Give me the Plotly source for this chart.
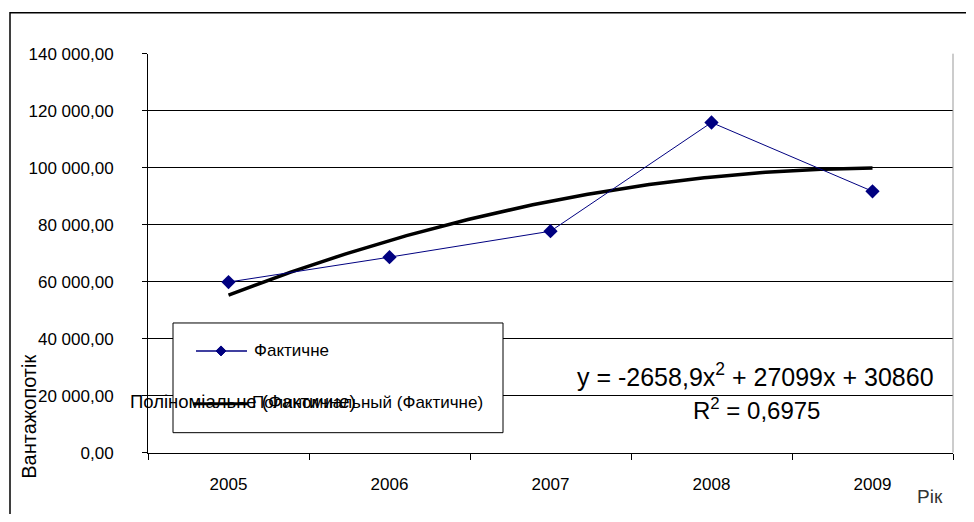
import numpy as np
import plotly.graph_objects as go

# ---- data ----
years = [2005, 2006, 2007, 2008, 2009]
fact = [59850, 68600, 77700, 115850, 91700]
poly_coef = [-2658.9, 27099, 30860]   # trendline y = a x^2 + b x + c, x = 1..5
r2_text = "R<sup>2</sup> = 0,6975"
eq_text = "y = -2658,9x<sup>2</sup> + 27099x + 30860"
ytick_vals = [0, 20000, 40000, 60000, 80000, 100000, 120000, 140000]
ytick_text = ["0,00", "20 000,00", "40 000,00", "60 000,00", "80 000,00",
              "100 000,00", "120 000,00", "140 000,00"]
series_name = "Фактичне"
trend_name_1 = "Поліноміальне (Фактичне)"
trend_name_2 = "Полиномиальный (Фактичне)"
y_title = "Вантажопотік"
x_title = "Рік"

OFF = 8  # page body margin
W, H = 974 - 2 * OFF, 522 - 2 * OFF
def px(x):
    return (x - OFF) / W
def py(y):
    yy = (y - 7.5) / 0.965
    return 1 - (yy - OFF) / H

FONT = "Liberation Sans, Arial, sans-serif"

xs = np.linspace(1, 5, 200)
trend_y = np.polyval(poly_coef, xs)
trend_x = [years[0] - 1 + v for v in xs]

fig = go.Figure()
fig.add_trace(go.Scatter(x=trend_x, y=trend_y, mode="lines",
                         line=dict(color="black", width=3.5),
                         showlegend=False, hoverinfo="skip"))
fig.add_trace(go.Scatter(x=years, y=fact, mode="lines+markers",
                         line=dict(color="#000080", width=1),
                         marker=dict(symbol="diamond", size=11, color="#000080"),
                         showlegend=False))

shapes = []
# outer chart border
shapes.append(dict(type="rect", xref="paper", yref="paper",
                   x0=px(10), x1=px(990), y0=py(560), y1=py(11),
                   line=dict(color="black", width=1.5), layer="below"))
# plot area right border
shapes.append(dict(type="line", xref="paper", yref="paper",
                   x0=px(953), x1=px(953), y0=py(452), y1=py(52),
                   line=dict(color="#999999", width=1)))
# legend box
shapes.append(dict(type="rect", xref="paper", yref="paper",
                   x0=px(173), x1=px(503), y0=py(432), y1=py(322),
                   line=dict(color="black", width=1), fillcolor="white", layer="above"))
# legend sample lines
shapes.append(dict(type="line", xref="paper", yref="paper",
                   x0=px(196), x1=px(247), y0=py(350), y1=py(350),
                   line=dict(color="#000080", width=1.5)))
d = 5
shapes.append(dict(type="path", xref="paper", yref="paper",
                   path=f"M {px(221)} {py(350-d)} L {px(221+d)} {py(350)} L {px(221)} {py(350+d)} L {px(221-d)} {py(350)} Z",
                   fillcolor="#000080", line=dict(color="#000080", width=1)))
shapes.append(dict(type="line", xref="paper", yref="paper",
                   x0=px(193), x1=px(248), y0=py(403), y1=py(403),
                   line=dict(color="black", width=3)))

annotations = [
    dict(text=series_name, x=px(252), y=py(350), xref="paper", yref="paper",
         xanchor="left", yanchor="middle", showarrow=False,
         font=dict(family=FONT, size=17, color="black")),
    dict(text=trend_name_1, x=px(128), y=py(401), xref="paper", yref="paper",
         xanchor="left", yanchor="middle", showarrow=False,
         font=dict(family=FONT, size=18.5, color="black")),
    dict(text=trend_name_2, x=px(250), y=py(402), xref="paper", yref="paper",
         xanchor="left", yanchor="middle", showarrow=False,
         font=dict(family=FONT, size=17, color="black")),
    dict(text=eq_text, x=px(755), y=py(374), xref="paper", yref="paper",
         xanchor="center", yanchor="middle", showarrow=False,
         font=dict(family=FONT, size=25, color="black")),
    dict(text=r2_text, x=px(756), y=py(408), xref="paper", yref="paper",
         xanchor="center", yanchor="middle", showarrow=False,
         font=dict(family=FONT, size=24, color="black")),
    dict(text=y_title, x=px(29), y=py(416), xref="paper", yref="paper",
         xanchor="center", yanchor="middle", showarrow=False, textangle=-90,
         font=dict(family=FONT, size=20, color="black")),
    dict(text=x_title, x=px(930), y=py(496), xref="paper", yref="paper",
         xanchor="center", yanchor="middle", showarrow=False,
         font=dict(family=FONT, size=19, color="#333333")),
]

fig.update_layout(
    width=W, height=H,
    margin=dict(l=0, r=0, t=0, b=0),
    paper_bgcolor="white", plot_bgcolor="white",
    showlegend=False,
    shapes=shapes, annotations=annotations,
    xaxis=dict(domain=[px(148), px(953)], range=[years[0] - 0.5, years[-1] + 0.5],
               tickvals=years, ticktext=[str(y) for y in years], ticks="",
               showgrid=False, zeroline=False,
               showline=True, linecolor="black", linewidth=1,
               ticklabelstandoff=16,
               minor=dict(tick0=years[0] - 0.5, dtick=1, ticks="outside",
                          ticklen=6, tickcolor="black", showgrid=False),
               tickfont=dict(family=FONT, size=17, color="black")),
    yaxis=dict(domain=[py(452), py(52)], range=[0, 140000],
               tickvals=ytick_vals, ticktext=ytick_text,
               ticks="outside", ticklen=5, tickcolor="black",
               showgrid=True, gridcolor="black", gridwidth=1,
               zeroline=False, showline=True, linecolor="black", linewidth=1,
               ticklabelstandoff=25,
               tickfont=dict(family=FONT, size=17, color="black")),
)

fig.write_html("out.html")
